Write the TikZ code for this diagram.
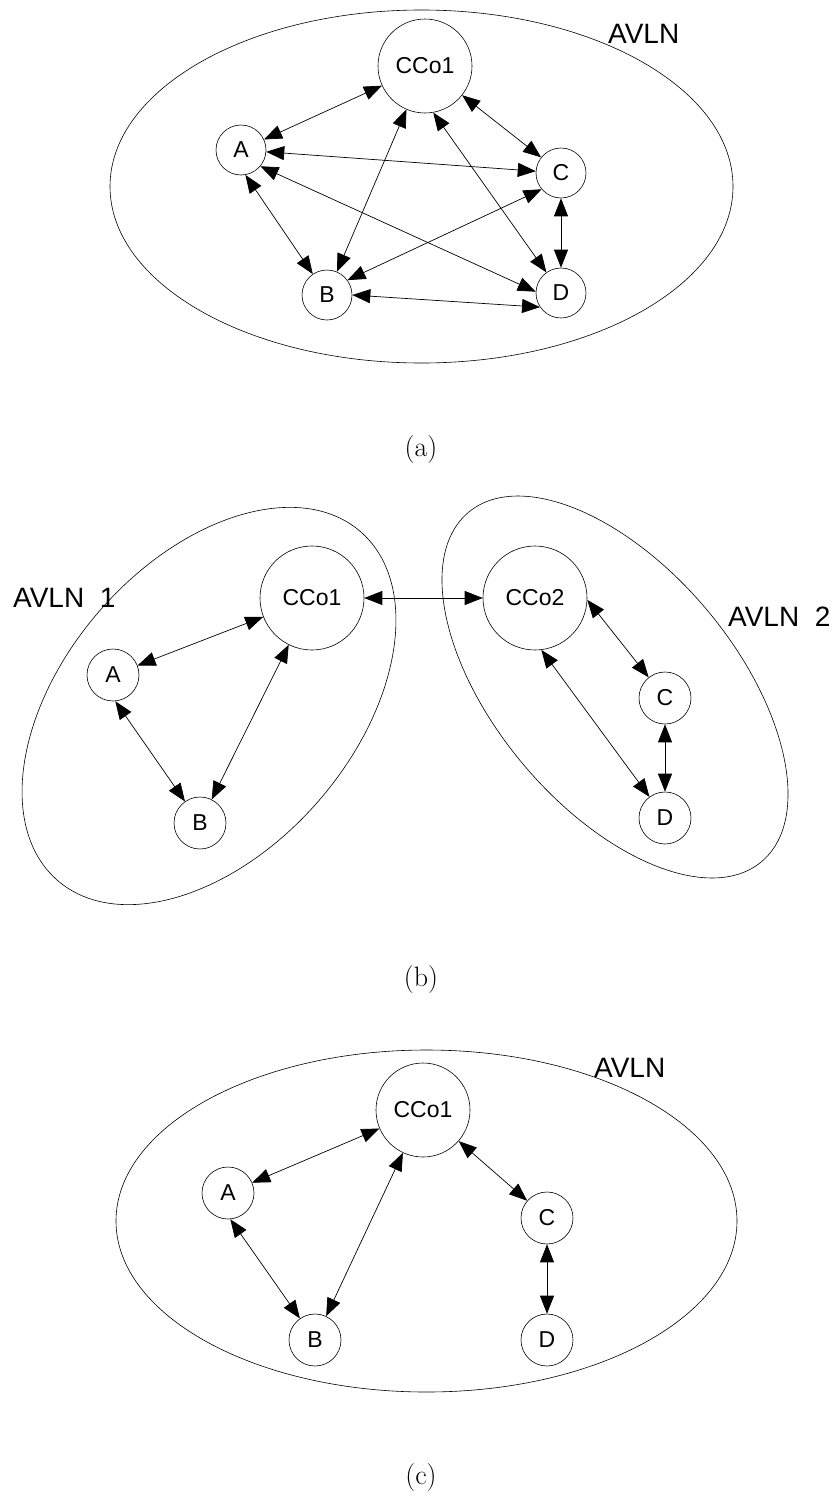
\documentclass[tikz,border=0pt]{standalone}
\usepackage{fontspec}
\newfontfamily\netfont{Liberation Sans}
\usetikzlibrary{arrows.meta}

\tikzset{
  sta/.style={circle, draw, line width=0.6pt, inner sep=0pt, minimum size=50pt, font=\netfont\fontsize{23}{25}\selectfont},
  cco/.style={sta, minimum size=94pt},
  lnk/.style={{Triangle[length=18pt,width=14pt]}-{Triangle[length=18pt,width=14pt]}, line width=0.7pt},
  net/.style={line width=0.6pt},
  avln/.style={anchor=west, inner sep=0pt, font=\netfont\fontsize{28}{30}\selectfont},
  subcap/.style={font=\fontsize{28}{32}\selectfont}
}

\begin{document}
\begin{tikzpicture}[x=1pt,y=-1pt]
\useasboundingbox (0,0) rectangle (840,1499);

% (a) one network, every station talks to every other
\draw[net] (421.5,186.5) ellipse [x radius=311.5, y radius=176.5];
\node[avln] (aLab) at (608,34) {AVLN};
\node[cco] (aCCo) at (425,66) {CCo1};
\node[sta] (aA) at (241,150) {A};
\node[sta] (aC) at (561,173) {C};
\node[sta] (aB) at (327,295) {B};
\node[sta] (aD) at (561,293) {D};

\draw[lnk] (aCCo) -- (aA);
\draw[lnk] (aCCo) -- (aB);
\draw[lnk] (aCCo) -- (aC);
\draw[lnk] (aCCo.-80) -- (aD);
\draw[lnk] (aA) -- (aC);
\draw[lnk] (aA.-80) -- (aB);
\draw[lnk] (aA.-40) -- (aD.177);
\draw[lnk] (aC.220) -- (aB.36);
\draw[lnk] (aC) -- (aD);
\draw[lnk] (aB.east) -- (aD.214);

\node[subcap] (aCap) at (421,450) {(a)};

% (b) two networks, the coordinators linked
\draw[net, rotate around={49:(209,706)}] (209,706) ellipse [x radius=231, y radius=145];
\draw[net, rotate around={-50:(615,687)}] (615,687) ellipse [x radius=228, y radius=120];
\node[avln] (bLab1) at (13,598) {AVLN~~1};
\node[avln] (bLab2) at (728,617) {AVLN~~2};
\node[cco, minimum size=104pt] (bCCo1) at (312,598) {CCo1};
\node[sta, minimum size=52pt] (bA) at (113,675) {A};
\node[sta, minimum size=52pt] (bB) at (200,823) {B};
\node[cco, minimum size=104pt] (bCCo2) at (535,598) {CCo2};
\node[sta, minimum size=52pt] (bC) at (665,698) {C};
\node[sta, minimum size=52pt] (bD) at (665,818) {D};

\draw[lnk] (bCCo1) -- (bA);
\draw[lnk] (bA.-85) -- (bB);
\draw[lnk] (bCCo1) -- (bB);
\draw[lnk] (bCCo1) -- (bCCo2);
\draw[lnk] (bCCo2.-2) -- (bC);
\draw[lnk] (bCCo2.-83) -- (bD);
\draw[lnk] (bC) -- (bD);

\node[subcap] (bCap) at (421,980) {(b)};

% (c) one network, fewer links
\draw[net] (426.5,1221) ellipse [x radius=310.5, y radius=171];
\node[avln] (cLab) at (594,1068) {AVLN};
\node[cco] (cCCo) at (423,1110) {CCo1};
\node[sta, minimum size=52pt] (cA) at (228,1193) {A};
\node[sta, minimum size=52pt] (cC) at (547,1218) {C};
\node[sta, minimum size=52pt] (cB) at (315,1340) {B};
\node[sta, minimum size=52pt] (cD) at (547,1340) {D};

\draw[lnk] (cCCo) -- (cA);
\draw[lnk] (cCCo) -- (cB);
\draw[lnk] (cCCo) -- (cC);
\draw[lnk] (cA.-85) -- (cB);
\draw[lnk] (cC) -- (cD);

\node[subcap] (cCap) at (421,1477) {(c)};
\end{tikzpicture}
\end{document}
